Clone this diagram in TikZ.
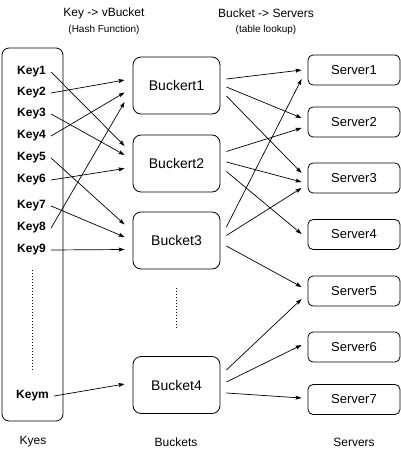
\documentclass[tikz,border=0pt]{standalone}
\usepackage{fontspec}
\setmainfont{Liberation Sans}
\usetikzlibrary{arrows.meta,calc}
\begin{document}
\begin{tikzpicture}[x=1pt,y=-1pt,
  keylbl/.style={font=\bfseries\fontsize{12}{14}\selectfont, anchor=west, inner xsep=5pt, inner ysep=0pt},
  bucketbox/.style={draw, rounded corners=8pt, minimum width=87pt, minimum height=57pt, font=\fontsize{14}{16}\selectfont, line width=0.8pt},
  serverbox/.style={draw, rounded corners=5pt, minimum width=92pt, minimum height=30pt, font=\fontsize{13}{15}\selectfont, line width=0.8pt},
  keysbox/.style={draw, rounded corners=7pt, minimum width=61pt, minimum height=373pt, line width=0.8pt},
  arr/.style={-{Stealth[length=6pt,width=4pt,inset=1pt]}, line width=0.7pt},
  headtxt/.style={font=\fontsize{12}{14}\selectfont},
  subtxt/.style={font=\fontsize{10}{12}\selectfont},
  foottxt/.style={font=\fontsize{12}{14}\selectfont},
  dotline/.style={line width=0.7pt, dash pattern=on 0.8pt off 2.2pt}]
\useasboundingbox (0,0) rectangle (401,455);

% headers
\node[headtxt] (h1) at (104,13) {Key -> vBucket};
\node[subtxt] (h1s) at (104,30) {(Hash Function)};
\node[headtxt] (h2) at (266,13) {Bucket -> Servers};
\node[subtxt] (h2s) at (266,30) {(table lookup)};

% keys
\node[keysbox] (keys) at (32.5,234.5) {};
\node[keylbl] (k1) at (12,72) {Key1};
\node[keylbl] (k2) at (12,93) {Key2};
\node[keylbl] (k3) at (12,114) {Key3};
\node[keylbl] (k4) at (12,136) {Key4};
\node[keylbl] (k5) at (12,158) {Key5};
\node[keylbl] (k6) at (12,180) {Key6};
\node[keylbl] (k7) at (12,206) {Key7};
\node[keylbl] (k8) at (12,228) {Key8};
\node[keylbl] (k9) at (12,250) {Key9};
\node[keylbl] (km) at (11,396) {Keym};
\coordinate (kd1) at (32,270);
\coordinate (kd2) at (32,372);
\draw[dotline] (kd1) -- (kd2);

% buckets
\node[bucketbox] (b1) at (176.5,85.5) {Buckert1};
\node[bucketbox] (b2) at (176.5,163.5) {Buckert2};
\node[bucketbox] (b3) at (176.5,240.5) {Bucket3};
\node[bucketbox] (b4) at (176.5,385) {Bucket4};
\draw[dotline] ($(b3.south)+(0,19)$) -- ($(b4.north)+(0,-27)$);

% servers
\node[serverbox] (s1) at (354,70) {Server1};
\node[serverbox] (s2) at (354,122) {Server2};
\node[serverbox] (s3) at (354,178) {Server3};
\node[serverbox] (s4) at (354,234.5) {Server4};
\node[serverbox] (s5) at (354,291) {Server5};
\node[serverbox] (s6) at (354,347) {Server6};
\node[serverbox] (s7) at (354,399.5) {Server7};

% footer
\node[foottxt] (lk) at (33,442) {Kyes};
\node[foottxt] (lb) at (176,442) {Buckets};
\node[foottxt] (ls) at (354,442) {Servers};

% key -> bucket
\draw[arr] (k1.east) -- ($(b2.west)+(-8,-17.5)$);
\draw[arr] (k2.east) -- ($(b1.west)+(-8,-5.5)$);
\draw[arr] (k3.east) -- ($(b2.west)+(-8,-8.5)$);
\draw[arr] (k4.east) -- ($(b1.west)+(-8,7)$);
\draw[arr] (k5.east) -- ($(b3.west)+(-8,-16)$);
\draw[arr] (k6.east) -- ($(b2.west)+(-8,5)$);
\draw[arr] (k7.east) -- ($(b3.west)+(-8,-3.5)$);
\draw[arr] (k8.east) -- ($(b1.west)+(-8,16.5)$);
\draw[arr] (k9.east) -- ($(b3.west)+(-8,9)$);
\draw[arr] (km.east) -- ($(b4.west)+(-8,-1)$);

% bucket -> server
\draw[arr] ($(b1.east)+(6,-6.5)$) -- ($(s1.west)+(-6,0)$);
\draw[arr] ($(b1.east)+(6,1.5)$) -- ($(s2.west)+(-6,-4)$);
\draw[arr] ($(b1.east)+(6,10.5)$) -- ($(s3.west)+(-6,-5)$);
\draw[arr] ($(b2.east)+(6,-12)$) -- ($(s2.west)+(-6,6)$);
\draw[arr] ($(b2.east)+(6,-1.5)$) -- ($(s3.west)+(-6,4)$);
\draw[arr] ($(b2.east)+(6,8)$) -- ($(s4.west)+(-6,-0.5)$);
\draw[arr] ($(b3.east)+(6,-13.5)$) -- ($(s1.west)+(-6,9)$);
\draw[arr] ($(b3.east)+(6,-5)$) -- ($(s3.west)+(-6,10)$);
\draw[arr] ($(b3.east)+(6,5.5)$) -- ($(s5.west)+(-6,-4)$);
\draw[arr] ($(b4.east)+(6,-15)$) -- ($(s5.west)+(-6,8)$);
\draw[arr] ($(b4.east)+(6,-3)$) -- ($(s6.west)+(-6,-2)$);
\draw[arr] ($(b4.east)+(6,8)$) -- ($(s7.west)+(-6,-1.5)$);
\end{tikzpicture}
\end{document}
